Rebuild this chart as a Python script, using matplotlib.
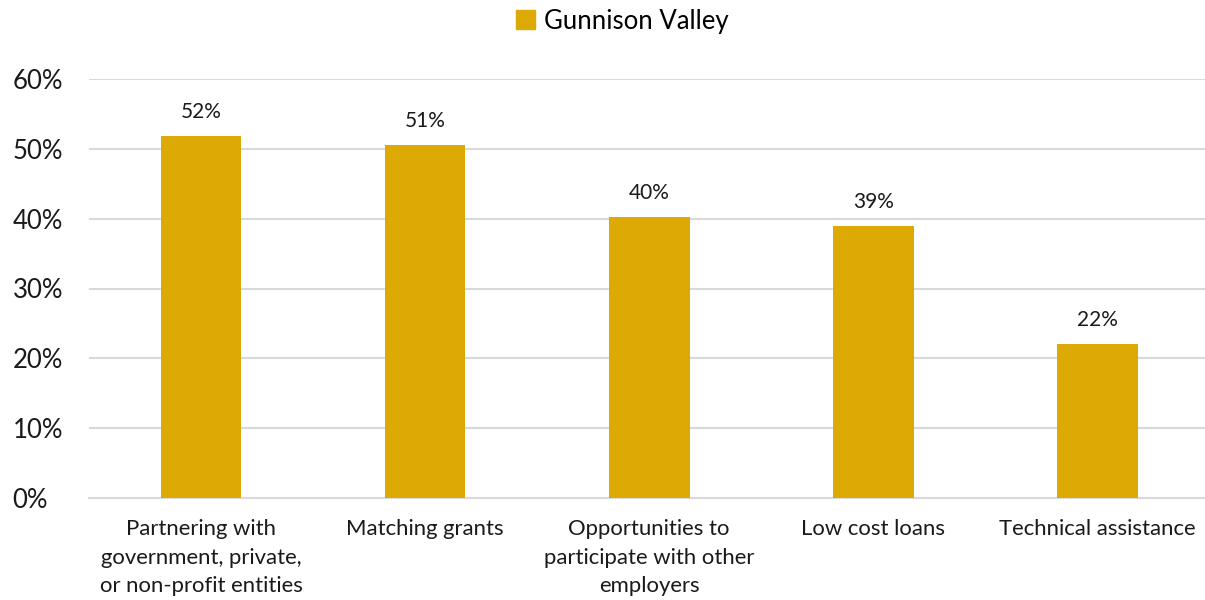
import matplotlib.pyplot as plt
from matplotlib.patches import Patch

# Share of respondents choosing each kind of support
categories = [
    "Partnering with\ngovernment, private,\nor non-profit entities",
    "Matching grants",
    "Opportunities to\nparticipate with other\nemployers",
    "Low cost loans",
    "Technical assistance",
]
values = [51.8, 50.6, 40.2, 39.0, 22.1]
series_name = "Gunnison Valley"
yticks = [0, 10, 20, 30, 40, 50, 60]

BAR_COLOR = "#DDA904"
GRID_COLOR = "#D9D9D9"

plt.rcParams["font.family"] = ["Lato", "DejaVu Sans"]

fig = plt.figure(figsize=(12.05, 6.0), dpi=100)
ax = fig.add_axes([89 / 1205, 102 / 600, 1 - 89 / 1205, 419 / 600])

x = range(len(categories))
bars = ax.bar(x, values, width=0.36, color=BAR_COLOR, zorder=3)

# value labels above each bar
for rect, v in zip(bars, values):
    ax.text(rect.get_x() + rect.get_width() / 2, v + 2.0, f"{v:.0f}%",
            ha="center", va="bottom", fontsize=15, color="#1a1a1a")

ax.set_ylim(0, 60)
ax.set_xlim(-0.5, 4.48)
ax.set_yticks(yticks)
ax.set_yticklabels([f"{t}%" for t in yticks], fontsize=18.5, color="#1a1a1a")
ax.set_xticks(list(x))
ax.set_xticklabels(categories, fontsize=15.9, color="#1a1a1a", linespacing=1.55)
ax.tick_params(axis="both", length=0)
ax.tick_params(axis="x", pad=15)
ax.tick_params(axis="y", pad=55)
for lbl in ax.get_yticklabels():
    lbl.set_horizontalalignment("left")

ax.grid(axis="y", color=GRID_COLOR, linewidth=1.5, zorder=0)
for side in ["top", "right", "left"]:
    ax.spines[side].set_visible(False)
ax.spines["bottom"].set_color(GRID_COLOR)
ax.spines["bottom"].set_linewidth(1.5)

fig.legend(handles=[Patch(color=BAR_COLOR, label=series_name)],
           loc="center", bbox_to_anchor=(622 / 1205, 1 - 21 / 600),
           frameon=False, fontsize=18.5, handlelength=0.75, handleheight=0.75,
           handletextpad=0.35)

fig.savefig("out.png", dpi=100)
